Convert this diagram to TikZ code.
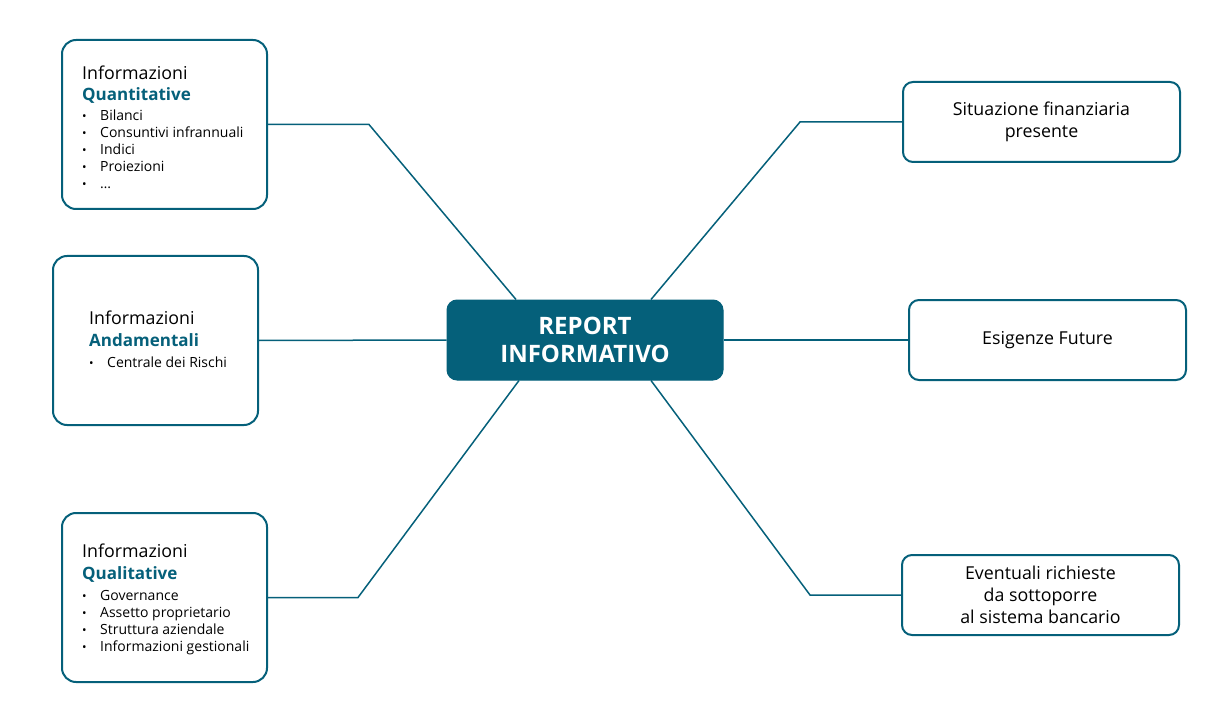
\documentclass[tikz,border=0pt]{standalone}
\usepackage{fontspec}
\setmainfont{Open Sans}
\usetikzlibrary{calc}
\definecolor{teal1}{HTML}{05607A}
\begin{document}
\begin{tikzpicture}[x=1pt,y=-1pt,
  box/.style={draw=teal1,line width=2pt,rounded corners=14pt,fill=white,inner sep=0pt},
  conn/.style={draw=teal1,line width=1.5pt},
  ttl/.style={anchor=base west,inner sep=0pt,font=\fontsize{17.8}{20}\selectfont,text=black},
  hl/.style={anchor=base west,inner sep=0pt,font=\fontsize{17}{20}\selectfont\bfseries,text=teal1},
  itm/.style={anchor=base west,inner sep=0pt,font=\fontsize{14}{16}\selectfont},
  dot/.style={anchor=base west,inner sep=0pt,font=\fontsize{12}{15}\selectfont},
  rtxt/.style={align=center,font=\fontsize{17.8}{22}\selectfont,inner sep=0pt}]
\useasboundingbox (0,0) rectangle (1207,703);
% boxes
\node[box,minimum width=205pt,minimum height=169pt] (q) at (164.5,124.5) {};
\node[box,minimum width=205pt,minimum height=169pt] (a) at (155.5,340.5) {};
\node[box,minimum width=205pt,minimum height=169pt] (l) at (164.5,597.5) {};
\node[draw=teal1,fill=teal1,line width=1pt,rounded corners=10pt,minimum width=276pt,minimum height=80pt,align=center,text=white,font=\fontsize{24}{28}\selectfont\bfseries] (c) at (585,340) {REPORT\\INFORMATIVO};
\node[box,rounded corners=10pt,minimum width=277pt,minimum height=80pt] (s) at (1041.5,122) {};
\node[box,rounded corners=10pt,minimum width=277pt,minimum height=80pt] (e) at (1047.5,340) {};
\node[box,rounded corners=10pt,minimum width=277pt,minimum height=80pt] (v) at (1040.5,595) {};
% bend points
\coordinate (qb) at (369,124.5);
\coordinate (lb) at (358,597.5);
\coordinate (sb) at (800,122);
\coordinate (vb) at (810,595);
% connectors
\draw[conn] (q.east) -- (qb) -- ($(c.north)+(-69,0)$);
\draw[conn] (a.east) -- (c.west);
\draw[conn] (l.east) -- (lb) -- ($(c.south)+(-66,0)$);
\draw[conn] (s.west) -- (sb) -- ($(c.north)+(66,0)$);
\draw[conn] (c.east) -- (e.west);
\draw[conn] (v.west) -- (vb) -- ($(c.south)+(66,0)$);
% Q text
\node[ttl] (q1) at (82,80) {Informazioni};
\node[hl] (q2) at (82,101) {Quantitative};
\node[dot] (qd1) at (82,121) {•};
\node[itm] (qi1) at (100,121) {Bilanci};
\node[dot] (qd2) at (82,138) {•};
\node[itm] (qi2) at (100,138) {Consuntivi infrannuali};
\node[dot] (qd3) at (82,155) {•};
\node[itm] (qi3) at (100,155) {Indici};
\node[dot] (qd4) at (82,172) {•};
\node[itm] (qi4) at (100,172) {Proiezioni};
\node[dot] (qd5) at (82,189) {•};
\node[itm] (qi5) at (100,189) {…};
% A text
\node[ttl] (a1) at (89,324) {Informazioni};
\node[hl] (a2) at (89,346) {Andamentali};
\node[dot] (ad1) at (89,367) {•};
\node[itm] (ai1) at (107,367) {Centrale dei Rischi};
% L text
\node[ttl] (l1) at (82,557) {Informazioni};
\node[hl] (l2) at (82,579) {Qualitative};
\node[dot] (ld1) at (82,600) {•};
\node[itm] (li1) at (100,600) {Governance};
\node[dot] (ld2) at (82,617) {•};
\node[itm] (li2) at (100,617) {Assetto proprietario};
\node[dot] (ld3) at (82,634) {•};
\node[itm] (li3) at (100,634) {Struttura aziendale};
\node[dot] (ld4) at (82,651) {•};
\node[itm] (li4) at (100,651) {Informazioni gestionali};
% right texts
\node[rtxt] (st) at (s.center) {Situazione finanziaria\\presente};
\node[rtxt] (et) at (e.center) {Esigenze Future};
\node[rtxt] (vt) at (v.center) {Eventuali richieste\\da sottoporre\\al sistema bancario};
\end{tikzpicture}
\end{document}
